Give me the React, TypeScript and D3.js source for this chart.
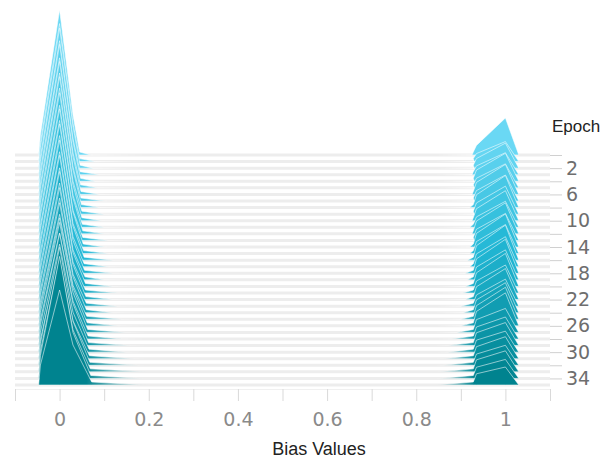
import React, { useEffect, useRef } from "react";
import * as d3 from "d3";

// one row per epoch (0..35)
const epochs = d3.range(0, 36);
const leftPeak = [145, 138, 140, 134, 137, 130, 133, 128, 131, 126, 128, 122, 125, 120, 123, 118, 120, 115, 118, 112, 115, 110, 112, 108, 110, 105, 108, 110, 106, 112, 108, 104, 118, 112, 122, 95];
const leftShoulder = [40, 38, 42, 36, 40, 35, 38, 34, 38, 33, 36, 32, 36, 30, 35, 30, 34, 30, 33, 30, 34, 31, 35, 32, 36, 34, 38, 40, 38, 42, 40, 38, 44, 42, 46, 40];
const leftReach = [0.045, 0.045, 0.046, 0.046, 0.047, 0.047, 0.048, 0.048, 0.049, 0.05, 0.05, 0.051, 0.052, 0.052, 0.053, 0.054, 0.055, 0.055, 0.056, 0.057, 0.058, 0.058, 0.059, 0.06, 0.06, 0.061, 0.062, 0.063, 0.064, 0.065, 0.066, 0.067, 0.068, 0.069, 0.07, 0.072];
const leftTail = [0.07, 0.08, 0.075, 0.09, 0.08, 0.085, 0.09, 0.1, 0.09, 0.1, 0.095, 0.1, 0.1, 0.11, 0.1, 0.11, 0.12, 0.11, 0.12, 0.1, 0.12, 0.13, 0.12, 0.13, 0.12, 0.14, 0.13, 0.15, 0.14, 0.16, 0.15, 0.17, 0.18, 0.2, 0.19, 0.2];
const rightPeak = [37, 20, 25, 22, 28, 24, 30, 26, 32, 28, 30, 26, 31, 27, 33, 29, 35, 30, 34, 30, 33, 28, 31, 27, 30, 32, 33, 24, 22, 23, 21, 22, 20, 21, 19, 18];
const rightShoulder = [12, 10, 12, 11, 14, 12, 15, 13, 16, 14, 15, 13, 16, 14, 17, 15, 18, 16, 18, 16, 17, 15, 16, 14, 16, 17, 18, 16, 15, 16, 15, 15, 14, 15, 14, 14];
const rightTail = [0.925, 0.93, 0.93, 0.925, 0.93, 0.93, 0.925, 0.93, 0.92, 0.93, 0.925, 0.92, 0.925, 0.93, 0.92, 0.92, 0.915, 0.92, 0.91, 0.915, 0.91, 0.905, 0.91, 0.9, 0.905, 0.9, 0.9, 0.89, 0.88, 0.87, 0.87, 0.86, 0.86, 0.85, 0.85, 0.84];
const xTicks = d3.range(-0.1, 1.1001, 0.1);
const xLabels = [0, 0.2, 0.4, 0.6, 0.8, 1];
const yTicks = d3.range(0, 36, 2);
const yLabels = [2, 6, 10, 14, 18, 22, 26, 30, 34];

const width = 605;
const height = 459;
const left = 15;
const right = 550;

export default function App() {
  const gx = useRef<SVGGElement>(null);
  const gy = useRef<SVGGElement>(null);

  const x = d3.scaleLinear([-0.1, 1.1], [left, right]);
  const y = d3.scaleLinear([0, 35], [155, 385]);
  const h = d3.scaleLinear([0, 145], [0, 145]);
  const color = d3
    .scaleLinear<string>()
    .domain([0, 17, 35])
    .range(["#6ad8f4", "#22b7d5", "#00838f"]);

  // histogram outline per epoch: left cluster round 0, right cluster round 1
  const rows = epochs.map((e, i) => {
    const pts: [number, number][] = [
      [-0.047, 0],
      [-0.043, leftShoulder[i] * 0.5],
      [0, leftPeak[i]],
      [0.03, leftShoulder[i]],
      [leftReach[i], 3],
      [leftTail[i], 0],
      [rightTail[i], 0],
      [0.928, 3],
      [0.935, rightShoulder[i] * 0.8],
      [1.0, rightPeak[i]],
      [1.03, 0],
    ];
    return { e, pts };
  });

  const area = (e: number) =>
    d3
      .area<[number, number]>()
      .x((d) => x(d[0]))
      .y0(y(e))
      .y1((d) => y(e) - h(d[1]));

  useEffect(() => {
    const axisBottom = d3
      .axisBottom(x)
      .tickValues(xTicks)
      .tickSize(12)
      .tickPadding(12)
      .tickFormat((d) => {
        const v = Math.round(+d * 10) / 10;
        return xLabels.some((l) => Math.abs(l - v) < 1e-6) ? d3.format("~g")(v) : "";
      });
    const sx = d3.select(gx.current!).call(axisBottom);
    sx.select(".domain").style("stroke", "#f0f0f0");
    sx.selectAll(".tick line").style("stroke", "#d9d9d9");
    sx.selectAll(".tick text")
      .style("fill", "#8a8a8a")
      .style("font-size", "19px")
      .style("font-family", "'DejaVu Sans'");

    const axisRight = d3
      .axisRight(y)
      .tickValues(yTicks)
      .tickSize(12)
      .tickPadding(4)
      .tickFormat((d) => (yLabels.includes(+d) ? String(d) : ""));
    const sy = d3.select(gy.current!).call(axisRight);
    sy.select(".domain").remove();
    sy.selectAll(".tick line").style("stroke", "#d0d0d0");
    sy.selectAll(".tick text")
      .style("fill", "#6e6e6e")
      .style("font-size", "19px")
      .style("font-family", "'DejaVu Sans'");
  }, []);

  return (
    <svg width={width} height={height} style={{ position: "absolute", left: 0, top: 0 }}>
      <defs>
        <linearGradient id="fade" gradientUnits="userSpaceOnUse" x1={0} x2={width} y1={0} y2={0}>
          <stop offset={x(0.06) / width} stopColor="#fff" />
          <stop offset={x(0.2) / width} stopColor="#000" />
          <stop offset={x(0.84) / width} stopColor="#000" />
          <stop offset={x(0.93) / width} stopColor="#fff" />
        </linearGradient>
        <mask id="fadeMask" maskUnits="userSpaceOnUse" x={0} y={0} width={width} height={height}>
          <rect x={0} y={0} width={width} height={height} fill="url(#fade)" />
        </mask>
      </defs>
      <g>
        {epochs.map((e) => (
          <line key={e} x1={left} x2={right} y1={y(e)} y2={y(e)} stroke="#ededed" strokeWidth={3} />
        ))}
      </g>
      <g mask="url(#fadeMask)">
        {rows.map((r) => (
          <path
            key={r.e}
            d={area(r.e)(r.pts) || ""}
            fill={color(r.e)}
            stroke="#fff"
            strokeOpacity={0.55}
            strokeWidth={1}
          />
        ))}
      </g>
      <g ref={gx} transform={`translate(0,${389})`} />
      <g ref={gy} transform={`translate(${right},0)`} />
      <text x={552} y={132} fontFamily="'Liberation Sans', Arial" fontSize={17} fill="#222">
        Epoch
      </text>
      <text x={319} y={455} textAnchor="middle" fontFamily="'Liberation Sans', Arial" fontSize={18} fill="#222">
        Bias Values
      </text>
    </svg>
  );
}
